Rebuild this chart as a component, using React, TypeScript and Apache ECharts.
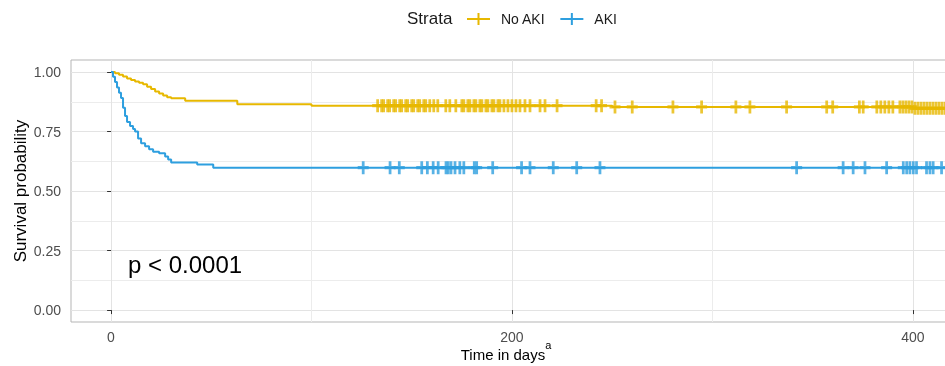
import React, { useEffect, useRef } from "react";
import * as echarts from "echarts";

// Kaplan-Meier step curves (time in days, survival probability after the step)
const noAkiTimes = [0, 2, 4, 6, 8, 10, 12, 14, 16, 18, 20, 22, 24, 26, 28, 30, 37, 63, 100, 250, 400, 420];
const noAkiSurv = [1, 0.994, 0.988, 0.981, 0.972, 0.966, 0.96, 0.955, 0.948, 0.938, 0.928, 0.918, 0.909, 0.901, 0.894, 0.889, 0.879, 0.864, 0.858, 0.853, 0.847, 0.847];

const akiTimes = [0, 1, 2, 3, 4, 5, 6, 7, 8, 9.5, 11, 12, 13.5, 15, 17, 19, 21, 24, 27, 28.5, 30, 43, 51, 420];
const akiSurv = [1, 0.98, 0.958, 0.935, 0.913, 0.89, 0.85, 0.815, 0.79, 0.773, 0.76, 0.75, 0.72, 0.7, 0.688, 0.675, 0.665, 0.658, 0.645, 0.632, 0.62, 0.611, 0.598, 0.598];

// Censoring times (days)
const noAkiCensor = [
  133, 135, 136, 138, 139, 141, 142, 144, 145, 147, 148, 150, 151, 153, 154, 156, 157, 159, 161, 163,
  167, 169, 172, 175, 176, 178, 179, 181, 182, 184, 185, 187, 188, 190, 191, 193, 194, 196, 198, 200,
  202, 204, 206.5, 209, 214, 216.5, 222.5, 242, 244.7, 251.4, 260, 280.3, 294.6, 311.7, 318.7, 337,
  357, 360, 373.3, 375.2, 382, 384, 386, 388, 390, 393.5, 395, 396.5, 398, 399.5, 401, 402.5, 404,
  405.5, 407, 408.5, 410, 411.5, 413, 414.5, 416,
];
const akiCensor = [
  125.8, 139.2, 143.8, 155, 157.8, 160.7, 163.2, 167.1, 168.2, 169.6, 171.6, 174, 176, 181.2, 182.4,
  190.4, 204.8, 209, 220.6, 232.3, 243.9, 342, 365.2, 370.2, 376.1, 386.9, 395.2, 396.9, 398.5, 400.2,
  401.8, 406.8, 408.5, 410.1, 414.3,
];

const strataNames = ["No AKI", "AKI"];
const strataColors = ["#E7B800", "#2E9FDF"];
const yTickValues = [0, 0.25, 0.5, 0.75, 1];

const FONT = "'Liberation Sans', Arial, sans-serif";
const CROSS = "path://M4.5,0H7.5V4.5H12V7.5H7.5V12H4.5V7.5H0V4.5H4.5Z";
const LEGEND_ICON = "path://M0,5H23V7H0Z M10.5,0H12.5V12H10.5Z";

function survAt(times: number[], surv: number[], t: number): number {
  let v = surv[0];
  for (let i = 0; i < times.length; i++) {
    if (times[i] <= t) v = surv[i];
  }
  return v;
}

export default function App() {
  const ref = useRef<HTMLDivElement>(null);

  useEffect(() => {
    if (!ref.current) return;
    const chart = echarts.init(ref.current, null, { renderer: "svg" });

    const curves = [
      { times: noAkiTimes, surv: noAkiSurv, censor: noAkiCensor },
      { times: akiTimes, surv: akiSurv, censor: akiCensor },
    ];

    const series: any[] = [];
    curves.forEach((c, i) => {
      series.push({
        name: strataNames[i],
        type: "line",
        xAxisIndex: 2,
        yAxisIndex: 2,
        step: "end",
        showSymbol: false,
        symbol: "none",
        data: c.times.map((t, k) => [t, c.surv[k]]),
        lineStyle: { color: strataColors[i], width: 2 },
        itemStyle: { color: strataColors[i] },
        z: 3 + i,
      });
    });
    curves.forEach((c, i) => {
      series.push({
        name: strataNames[i] + " censored",
        type: "scatter",
        xAxisIndex: 2,
        yAxisIndex: 2,
        symbol: CROSS,
        symbolSize: [11, 13],
        data: c.censor.map((t) => [t, survAt(c.times, c.surv, t)]),
        itemStyle: { color: strataColors[i] },
        z: 5 + i,
      });
    });

    const gridLine = { show: true, lineStyle: { color: "#e3e3e3", width: 1 } };
    const minorLine = { show: true, lineStyle: { color: "#ececec", width: 1 } };
    const gridBase = { outerBoundsMode: "none", containLabel: false };

    chart.setOption({
      animation: false,
      textStyle: { fontFamily: FONT },
      legend: {
        data: strataNames.map((n) => ({ name: n, icon: LEGEND_ICON })),
        left: 462,
        top: 7,
        itemWidth: 23,
        itemHeight: 12,
        itemGap: 15,
        textStyle: { fontSize: 14, color: "#1a1a1a", fontFamily: FONT, padding: [0, 0, 0, 6] },
        selectedMode: false,
      },
      grid: [
        { ...gridBase, left: 71, right: -8, top: 60, bottom: 44, show: true, borderColor: "#b5b5b5", borderWidth: 1, backgroundColor: "transparent" },
        { ...gridBase, left: 71, right: -8, top: 72, bottom: 56 },
        { ...gridBase, left: 111, right: -8, top: 60, bottom: 44 },
      ],
      xAxis: [
        { gridIndex: 0, type: "value", min: 0, max: 1, show: false },
        {
          gridIndex: 1,
          type: "value",
          min: -20,
          max: 420,
          axisLine: { show: false },
          axisTick: { show: false },
          axisLabel: { show: false },
          splitLine: { show: false },
          name: "{t|Time in days}{s|a}",
          nameLocation: "middle",
          nameGap: 29,
          nameMoveOverlap: false,
          nameTextStyle: {
            padding: [0, 12, 0, 0],
            rich: {
              t: { fontSize: 15, color: "#000", fontFamily: FONT, lineHeight: 30 },
              s: { fontSize: 11, color: "#000", fontFamily: FONT, verticalAlign: "top", lineHeight: 10 },
            },
          },
        },
        {
          gridIndex: 2,
          type: "value",
          min: 0,
          max: 420,
          interval: 200,
          axisLine: { show: false },
          axisTick: { show: true, length: 4, lineStyle: { color: "#333", width: 1 } },
          axisLabel: {
            margin: 8,
            fontSize: 14,
            color: "#4d4d4d",
            fontFamily: FONT,
            formatter: (v: number) => (v % 200 === 0 ? String(v) : ""),
          },
          splitLine: gridLine,
          minorTick: { show: false, splitNumber: 2 },
          minorSplitLine: minorLine,
        },
      ],
      yAxis: [
        { gridIndex: 0, type: "value", min: 0, max: 1, show: false },
        {
          gridIndex: 1,
          type: "value",
          min: yTickValues[0],
          max: yTickValues[yTickValues.length - 1],
          interval: 0.25,
          axisLine: { show: false },
          axisTick: { show: true, length: 4, lineStyle: { color: "#333", width: 1 } },
          axisLabel: {
            margin: 10,
            fontSize: 14,
            color: "#4d4d4d",
            fontFamily: FONT,
            formatter: (v: number) => v.toFixed(2),
          },
          splitLine: gridLine,
          minorTick: { show: false, splitNumber: 2 },
          minorSplitLine: minorLine,
          name: "Survival probability",
          nameLocation: "middle",
          nameGap: 42,
          nameMoveOverlap: false,
          nameTextStyle: { fontSize: 17, color: "#000", fontFamily: FONT },
        },
        { gridIndex: 2, type: "value", min: -0.05, max: 1.05, show: false },
      ],
      graphic: [
        { type: "text", left: 407, top: 10, style: { text: "Strata", fontSize: 17, fill: "#1a1a1a", fontFamily: FONT } },
        { type: "text", left: 128, top: 252, style: { text: "p < 0.0001", fontSize: 24, fill: "#000", fontFamily: FONT } },
      ],
      series,
    });

    return () => chart.dispose();
  }, []);

  return <div ref={ref} style={{ position: "fixed", left: 0, top: 0, width: 945, height: 366 }} />;
}
